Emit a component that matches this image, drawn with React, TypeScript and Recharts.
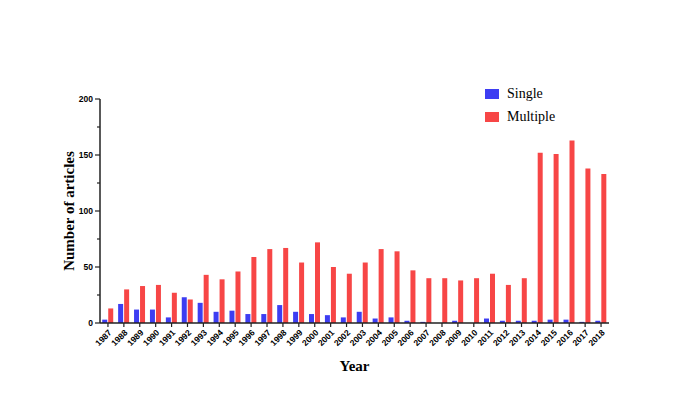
import React from 'react';
import { BarChart, Bar, XAxis, YAxis } from 'recharts';

const years = [
  '1987', '1988', '1989', '1990', '1991', '1992', '1993', '1994', '1995', '1996', '1997',
  '1998', '1999', '2000', '2001', '2002', '2003', '2004', '2005', '2006', '2007', '2008',
  '2009', '2010', '2011', '2012', '2013', '2014', '2015', '2016', '2017', '2018',
];
const single = [3, 17, 12, 12, 5, 23, 18, 10, 11, 8, 8, 16, 10, 8, 7, 5, 10, 4, 5, 2, 1, 0, 2, 0, 4, 2, 2, 2, 3, 3, 1, 2];
const multiple = [13, 30, 33, 34, 27, 21, 43, 39, 46, 59, 66, 67, 54, 72, 50, 44, 54, 66, 64, 47, 40, 40, 38, 40, 44, 34, 40, 152, 151, 163, 138, 133];
const yTicks = [0, 25, 50, 75, 100, 125, 150, 175, 200];
const seriesNames = ['Single', 'Multiple'];

const data = years.map((year, i) => ({ year, single: single[i], multiple: multiple[i] }));

const BLUE = '#3d3df2';
const RED = '#f74646';
const AXIS = '#222';
const tickFont = '"Liberation Sans", Arial, sans-serif';
const serif = '"Liberation Serif", "Times New Roman", serif';

function YTick(props: any) {
  const { x, y, payload } = props;
  const v = payload.value;
  const major = v % 50 === 0;
  const axisX = x + 7;
  return (
    <g>
      <line x1={axisX - (major ? 5 : 3)} x2={axisX} y1={y} y2={y} stroke={AXIS} strokeWidth={1.2} />
      {major && (
        <text x={x} y={y} dy={3} textAnchor="end" fontSize={8.5} fontWeight="bold" fontFamily={tickFont} fill="#000">
          {v}
        </text>
      )}
    </g>
  );
}

function XTick(props: any) {
  const { x, y, payload } = props;
  return (
    <g transform={`translate(${x},${y})`}>
      <text x={0} y={0} dy={6} textAnchor="end" transform="rotate(-45)" fontSize={8.5} fontWeight="bold" fontFamily={tickFont} fill="#000">
        {payload.value}
      </text>
    </g>
  );
}

function YLabel(props: any) {
  const { viewBox } = props;
  const cx = viewBox.x + 71;
  const cy = viewBox.y + viewBox.height / 2;
  return (
    <text x={cx} y={cy} transform={`rotate(-90, ${cx}, ${cy})`} textAnchor="middle" dominantBaseline="middle" fontSize={15} fontWeight="bold" fontFamily={serif} fill="#000">
      Number of articles
    </text>
  );
}

function LegendBox() {
  const colors = [BLUE, RED];
  return (
    <div style={{ position: 'absolute', left: 485, top: 82, fontFamily: serif, fontSize: 14, color: '#000' }}>
      {seriesNames.map((name, i) => (
        <div key={name} style={{ display: 'flex', alignItems: 'center', height: 23 }}>
          <span style={{ display: 'inline-block', width: 14, height: 10, background: colors[i], marginRight: 8 }} />
          <span>{name}</span>
        </div>
      ))}
    </div>
  );
}

export default function App() {
  return (
    <div style={{ position: 'absolute', left: 0, top: 0, width: 690, height: 414, background: '#fff' }}>
      <BarChart width={690} height={414} data={data} margin={{ top: 99, right: 81, bottom: 0, left: 0 }} barCategoryGap="14%" barGap={1}>
        <XAxis
          dataKey="year"
          height={91}
          interval={0}
          tick={<XTick />}
          tickSize={4}
          tickLine={{ stroke: AXIS, strokeWidth: 1.2 }}
          axisLine={{ stroke: AXIS, strokeWidth: 1.5 }}
          label={{ value: 'Year', position: 'insideTop', offset: 37, fontSize: 15, fontWeight: 'bold', fontFamily: serif, fill: '#000' }}
        />
        <YAxis
          width={100}
          domain={[0, 200]}
          ticks={yTicks}
          interval={0}
          tick={<YTick />}
          tickLine={false}
          tickSize={5}
          tickMargin={2}
          axisLine={{ stroke: AXIS, strokeWidth: 1.5 }}
          label={<YLabel />}
        />
        <Bar dataKey="single" name={seriesNames[0]} fill={BLUE} isAnimationActive={false} />
        <Bar dataKey="multiple" name={seriesNames[1]} fill={RED} isAnimationActive={false} />
      </BarChart>
      <LegendBox />
    </div>
  );
}
